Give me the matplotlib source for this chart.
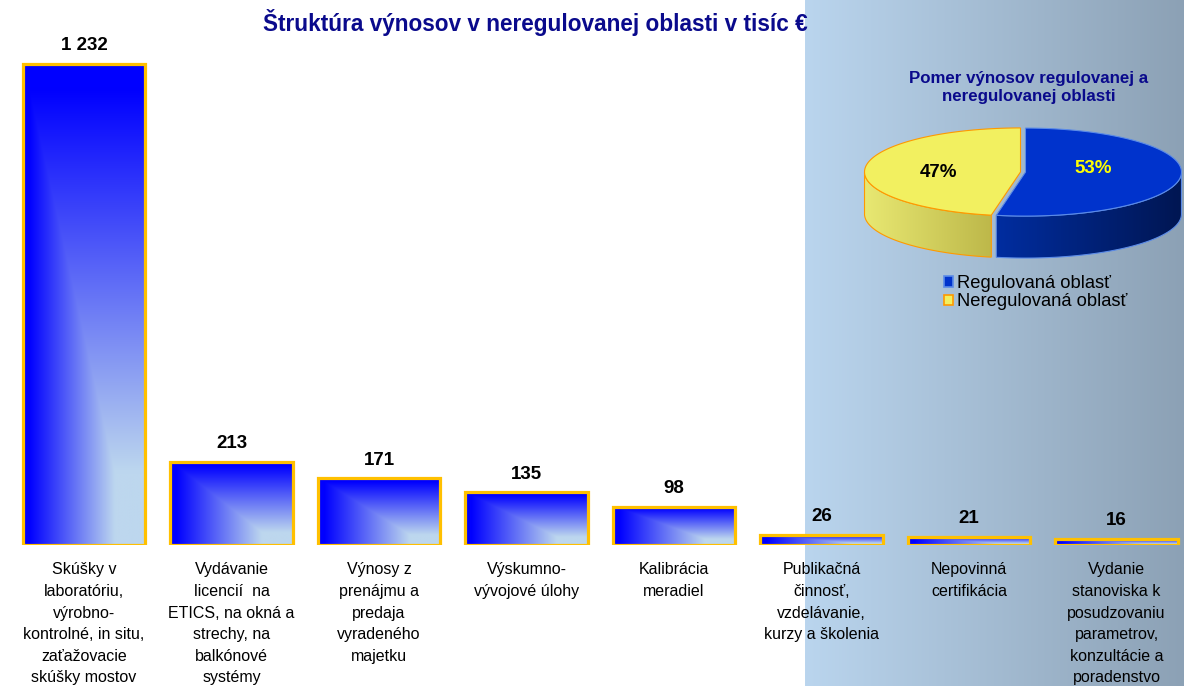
import numpy as np
import matplotlib.pyplot as plt
from matplotlib.patches import Polygon, Patch
from matplotlib.colors import to_rgb

plt.rcParams['font.family'] = ['Liberation Sans', 'DejaVu Sans']

# data
categories = [
    'Skúšky v\nlaboratóriu,\nvýrobno-\nkontrolné, in situ,\nzaťažovacie\nskúšky mostov',
    'Vydávanie\nlicencií  na\nETICS, na okná a\nstrechy, na\nbalkónové\nsystémy',
    'Výnosy z\nprenájmu a\npredaja\nvyradeného\nmajetku',
    'Výskumno-\nvývojové úlohy',
    'Kalibrácia\nmeradiel',
    'Publikačná\nčinnosť,\nvzdelávanie,\nkurzy a školenia',
    'Nepovinná\ncertifikácia',
    'Vydanie\nstanoviska k\nposudzovaniu\nparametrov,\nkonzultácie a\nporadenstvo',
]
values = [1232, 213, 171, 135, 98, 26, 21, 16]
value_labels = ['1 232', '213', '171', '135', '98', '26', '21', '16']

share_names = ['Regulovaná oblasť', 'Neregulovaná oblasť']
shares = [53, 47]

title = 'Štruktúra výnosov v neregulovanej oblasti v tisíc €'
pie_title = 'Pomer výnosov regulovanej a\nneregulovanej oblasti'

W, H = 1184, 686
fig = plt.figure(figsize=(W / 100, H / 100), dpi=100)

# background axes in pixel coordinates: shaded panel + 3d pie
bg = fig.add_axes([0, 0, 1, 1])
grad = np.linspace(0, 1, 256)[None, :, None]
c_left = np.array(to_rgb('#BAD5EE'))
c_right = np.array(to_rgb('#8CA1B5'))
panel = c_left * (1 - grad) + c_right * grad
bg.imshow(panel, extent=(805, W, H, 0), aspect='auto', interpolation='bilinear', zorder=0)

cx, cy, a, b, depth, explode = 1023, 172, 156, 44, 42, 2.5
top_cols = ['#0033CC', '#F2F060']
edge_cols = ['#5B8BE8', '#FF9900']
side_cols = [('#002DA0', '#001652'), ('#E8E872', '#BDB84A')]
lab_cols = ['#FFFF00', 'black']
lab_nudge = [(-10, -6), (-4, 3)]

fracs = np.array(shares) / sum(shares)
start = 90.0
handles = []
for i, f in enumerate(fracs):
    t1 = start
    t2 = start - 360 * f
    start = t2
    mid = np.radians((t1 + t2) / 2)
    ox, oy = explode * np.cos(mid), -explode * np.sin(mid) * b / a
    th = np.radians(np.linspace(t1, t2, 300))
    xs = cx + ox + a * np.cos(th)
    ys = cy + oy - b * np.sin(th)

    # side wall (front half only)
    front = np.sin(th) <= 0
    if front.any():
        fx, fy = xs[front], ys[front]
        order = np.argsort(fx)
        fx, fy = fx[order], fy[order]
        verts = np.column_stack([np.r_[fx, fx[::-1]], np.r_[fy, fy[::-1] + depth]])
        wall = Polygon(verts, closed=True, fc='none', ec=edge_cols[i], lw=0.8, zorder=3)
        bg.add_patch(wall)
        g = np.linspace(0, 1, 128)[None, :, None]
        cl, cr = np.array(to_rgb(side_cols[i][0])), np.array(to_rgb(side_cols[i][1]))
        im = bg.imshow(cl * (1 - g) + cr * g,
                       extent=(fx.min(), fx.max(), fy.max() + depth, fy.min()),
                       aspect='auto', interpolation='bilinear', zorder=2)
        im.set_clip_path(wall)

    verts = np.column_stack([np.r_[cx + ox, xs], np.r_[cy + oy, ys]])
    topf = Polygon(verts, closed=True, fc=top_cols[i], ec=edge_cols[i], lw=0.8, zorder=4)
    bg.add_patch(topf)
    handles.append(Patch(fc=top_cols[i], ec=edge_cols[i], lw=1.2, label=share_names[i]))

    bg.text(cx + ox + 0.5 * a * np.cos(mid) + lab_nudge[i][0],
            cy + oy - 0.5 * b * np.sin(mid) + lab_nudge[i][1],
            f'{shares[i]}%', ha='center', va='center', fontsize=13.5,
            fontweight='bold', color=lab_cols[i], zorder=5)

bg.text(1029, 87, pie_title, ha='center', va='center', fontsize=12.2, fontweight='bold',
        color='#0A0A8C', linespacing=1.25)
bg.legend(handles=handles, loc='upper left', bbox_to_anchor=(944 / W, 1 - 275 / H),
          frameon=False, fontsize=13.2, handlelength=0.5, handleheight=0.5,
          handletextpad=0.2, labelspacing=0.08, borderaxespad=0, borderpad=0)
bg.set_xlim(0, W)
bg.set_ylim(H, 0)
bg.axis('off')

fig.text(535 / W, 1 - 22 / H, title, ha='center', va='center', fontsize=16.3,
         fontweight='bold', color='#0A0A8C')

# bar axes
base = 141
ax = fig.add_axes([0, base / H, 1, (H - base) / H])
ax.patch.set_alpha(0)
x = np.arange(len(values))
bars = ax.bar(x, values, width=0.83, fc='none', ec='#FFC000', lw=2.3, zorder=3)

light = np.array(to_rgb('#BDD7EE'))
blue = np.array(to_rgb('#0000FF'))
u = np.linspace(0, 1, 160)
U, V = np.meshgrid(u, u)
s_h = np.clip((1 - U - 0.25) / 0.7, 0, 1)
s_v = np.clip((V - 0.15) / 0.8, 0, 1)
s = np.maximum(s_h, s_v)[..., None]
fill = light * (1 - s) + blue * s
for r in bars:
    ax.imshow(fill, extent=(r.get_x(), r.get_x() + r.get_width(), 0, r.get_height()),
              origin='lower', aspect='auto', interpolation='bilinear', zorder=2)

for xi, v, lbl, cat in zip(x, values, value_labels, categories):
    ax.annotate(lbl, (xi, v), xytext=(0, 7), textcoords='offset points', ha='center',
                va='bottom', fontsize=13.5, fontweight='bold')
    ax.annotate(cat, (xi, 0), xytext=(0, -12.5), textcoords='offset points', ha='center',
                va='top', fontsize=11.5, linespacing=1.55, annotation_clip=False)

ax.set_xlim(-84 / 147.5, (W - 84) / 147.5)
ax.set_ylim(0, 1232 * (H - base) / 481)
ax.axis('off')

fig.savefig('out.png', dpi=100)
